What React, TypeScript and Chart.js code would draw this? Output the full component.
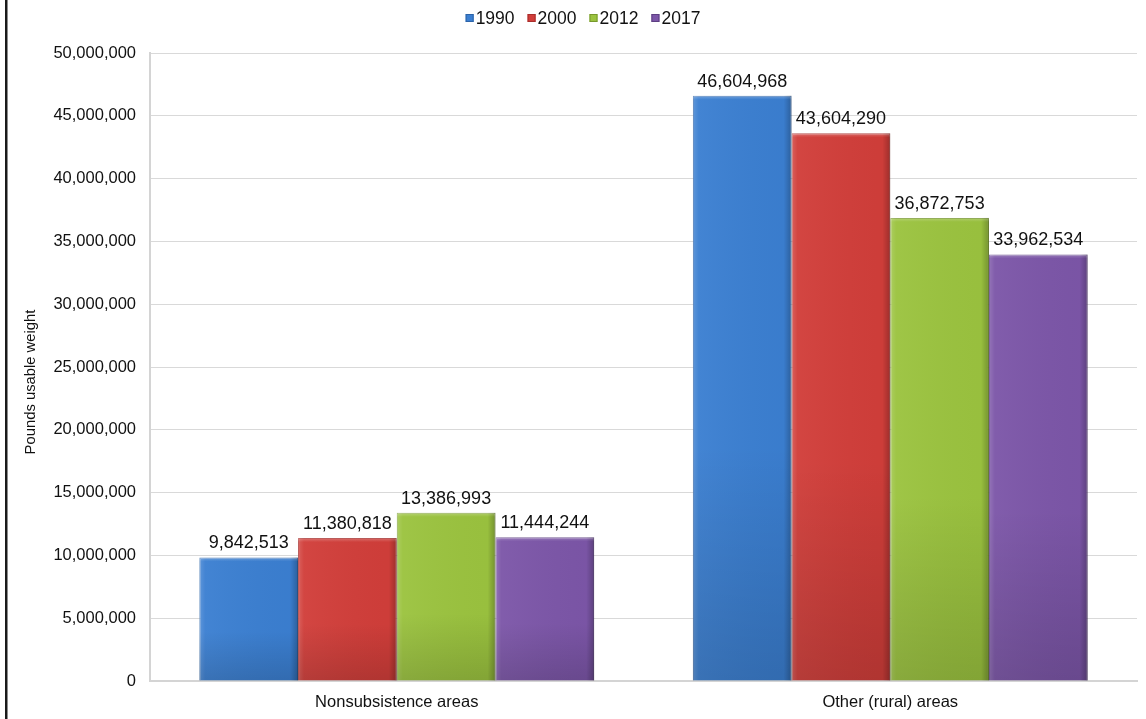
import React, { useEffect, useRef } from "react";
import { Chart, registerables } from "chart.js";

Chart.register(...registerables);

const categories = ["Nonsubsistence areas", "Other (rural) areas"];
const seriesNames = ["1990", "2000", "2012", "2017"];
const values1990 = [9842513, 46604968];
const values2000 = [11380818, 43604290];
const values2012 = [13386993, 36872753];
const values2017 = [11444244, 33962534];
const seriesColors = ["#3b7fd1", "#d13e3a", "#9bc33f", "#7c56a8"];
const seriesBorders = ["#2c63a8", "#a82e2b", "#77982c", "#5d3f82"];
const yTitle = "Pounds usable weight";

const FONT = "'Liberation Sans', Arial, sans-serif";
const fmt = (v: number) => v.toLocaleString("en-US");

const framePlugin = {
  id: "frame",
  beforeDraw(chart: any) {
    const { ctx, width, height } = chart;
    ctx.save();
    ctx.fillStyle = "#ffffff";
    ctx.fillRect(0, 0, width, height);
    ctx.fillStyle = "#1a1a1a";
    ctx.fillRect(5, 0, 2.5, height);
    ctx.restore();
  },
};

const yTitlePlugin = {
  id: "yTitle",
  afterDraw(chart: any) {
    const { ctx, chartArea } = chart;
    ctx.save();
    ctx.font = `14.8px ${FONT}`;
    ctx.fillStyle = "#111";
    ctx.textAlign = "center";
    ctx.textBaseline = "middle";
    const cy = (chartArea.top + chartArea.bottom) / 2 + 15;
    ctx.translate(31, cy);
    ctx.rotate(-Math.PI / 2);
    ctx.fillText(yTitle, 0, 0);
    ctx.restore();
  },
};

const legendPlugin = {
  id: "customLegend",
  afterDraw(chart: any) {
    const { ctx } = chart;
    ctx.save();
    ctx.font = `17.5px ${FONT}`;
    ctx.textBaseline = "middle";
    const box = 8;
    const gapBoxText = 2;
    const gapItems = 13;
    const items = chart.data.datasets.map((d: any) => d.label);
    const widths = items.map((t: string) => box + gapBoxText + ctx.measureText(t).width);
    const total = widths.reduce((a: number, b: number) => a + b, 0) + gapItems * (items.length - 1);
    const cx = chart.width / 2 + 10;
    let x = cx - total / 2;
    const y = 18;
    items.forEach((t: string, i: number) => {
      const ds = chart.data.datasets[i];
      ctx.fillStyle = ds.backgroundColor;
      ctx.fillRect(x, y - box / 2, box, box);
      ctx.strokeStyle = ds.borderColor;
      ctx.lineWidth = 1;
      ctx.strokeRect(x + 0.5, y - box / 2 + 0.5, box - 1, box - 1);
      ctx.fillStyle = "#111";
      ctx.fillText(t, x + box + gapBoxText, y + 1);
      x += widths[i] + gapItems;
    });
    ctx.restore();
  },
};

const bevelPlugin = {
  id: "bevel",
  afterDatasetsDraw(chart: any) {
    const { ctx } = chart;
    ctx.save();
    chart.data.datasets.forEach((ds: any, di: number) => {
      const meta = chart.getDatasetMeta(di);
      meta.data.forEach((el: any) => {
        const left = el.x - el.width / 2;
        const top = el.y;
        const h = el.base - el.y;
        const g = ctx.createLinearGradient(left, 0, left + el.width, 0);
        g.addColorStop(0, "rgba(255,255,255,0.18)");
        g.addColorStop(0.06, "rgba(255,255,255,0.04)");
        g.addColorStop(0.92, "rgba(0,0,0,0.02)");
        g.addColorStop(1, "rgba(0,0,0,0.25)");
        ctx.fillStyle = g;
        ctx.fillRect(left, top, el.width, h);
        const gv = ctx.createLinearGradient(0, top, 0, top + h);
        gv.addColorStop(0, "rgba(255,255,255,0.25)");
        gv.addColorStop(Math.min(0.5, 4 / Math.max(h, 1)), "rgba(255,255,255,0)");
        gv.addColorStop(0.6, "rgba(0,0,0,0)");
        gv.addColorStop(1, "rgba(0,0,0,0.14)");
        ctx.fillStyle = gv;
        ctx.fillRect(left, top, el.width, h);
      });
    });
    ctx.restore();
  },
};

const labelPlugin = {
  id: "valueLabels",
  afterDatasetsDraw(chart: any) {
    const { ctx } = chart;
    ctx.save();
    ctx.font = `18px ${FONT}`;
    ctx.fillStyle = "#111111";
    ctx.textAlign = "center";
    ctx.textBaseline = "bottom";
    chart.data.datasets.forEach((ds: any, di: number) => {
      const meta = chart.getDatasetMeta(di);
      meta.data.forEach((el: any, i: number) => {
        ctx.fillText(fmt(ds.data[i]), el.x, el.y - 5);
      });
    });
    ctx.restore();
  },
};

export default function App() {
  const ref = useRef<HTMLCanvasElement | null>(null);
  useEffect(() => {
    document.body.style.margin = "0";
    const allValues = [values1990, values2000, values2012, values2017];
    const chart = new Chart(ref.current as HTMLCanvasElement, {
      type: "bar",
      data: {
        labels: categories,
        datasets: seriesNames.map((name, i) => ({
          label: name,
          data: allValues[i],
          backgroundColor: seriesColors[i],
          borderColor: seriesBorders[i],
          borderWidth: 1,
          categoryPercentage: 0.8,
          barPercentage: 1.0,
        })),
      },
      options: {
        responsive: false,
        animation: false,
        layout: { padding: { left: 19, right: 9, top: 53, bottom: 6 } },
        plugins: {
          legend: { display: false },
          tooltip: { enabled: false },
        },
        scales: {
          x: {
            grid: { display: false, drawTicks: false },
            border: { color: "#d4d4d4", width: 2 },
            afterFit: (scale: any) => {
              scale.height = 32;
            },
            ticks: {
              color: "#111",
              padding: 12,
              font: { family: FONT, size: 16.5 },
            },
          },
          y: {
            min: 0,
            max: 50000000,
            grid: { color: "#d9d9d9", drawTicks: false },
            border: { color: "#d4d4d4", width: 2 },
            afterFit: (scale: any) => {
              scale.width = 131;
            },
            ticks: {
              stepSize: 5000000,
              padding: 14,
              color: "#111",
              font: { family: FONT, size: 16.5 },
              callback: (v: any) => fmt(Number(v)),
            },
            title: { display: false },
          },
        },
      },
      plugins: [framePlugin, bevelPlugin, labelPlugin, legendPlugin, yTitlePlugin],
    });
    return () => chart.destroy();
  }, []);
  return (
    <div style={{ width: 1146, height: 719 }}>
      <canvas ref={ref} width={1146} height={719} style={{ display: "block" }} />
    </div>
  );
}
